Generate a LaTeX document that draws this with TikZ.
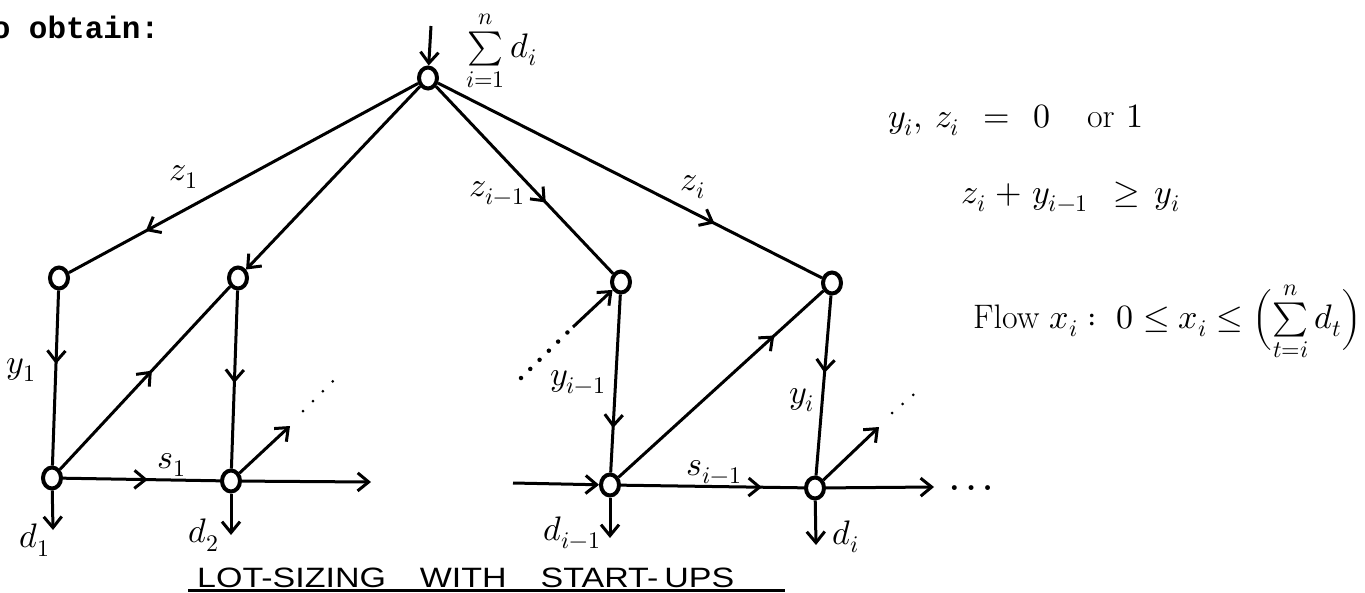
\documentclass[tikz,border=0pt]{standalone}
\usepackage{graphicx}
\usepackage{fontspec}
\usepackage{unicode-math}
\setmathfont{Latin Modern Math}
\newfontfamily\typefont{Liberation Mono}
\newfontfamily\titlefont{Liberation Sans}
\usetikzlibrary{arrows.meta,shapes.geometric,decorations.markings}
\newcommand\hwsize{\fontsize{34}{38}\selectfont}
\begin{document}
\begin{tikzpicture}[x=1pt,y=-1pt,
  vtx/.style={draw,ellipse,line width=4pt,minimum width=18pt,minimum height=21pt,inner sep=0pt},
  edge/.style={line width=3pt},
  tip/.style={-{Straight Barb[length=11pt,width=18pt,line width=3pt]}},
  midarrow/.style={postaction={decorate},decoration={markings,mark=at position #1 with {\arrow{Straight Barb[length=11pt,width=18pt,line width=3pt]}}}},
  lab/.style={font=\hwsize,inner sep=0pt},
  dotline/.style={line width=4.5pt,line cap=round,dash pattern=on 0pt off 13pt},
  smalldots/.style={line width=3pt,line cap=round,dash pattern=on 0pt off 14pt},
]
\useasboundingbox (0,0) rectangle (1365,592);

% nodes
\node[vtx] (T)  at (428,78) {};
\node[vtx] (A1) at (59,278) {};
\node[vtx] (B1) at (238,278) {};
\node[vtx] (A2) at (52,478) {};
\node[vtx] (B2) at (231,481) {};
\node[vtx] (C1) at (621,282) {};
\node[vtx] (D1) at (832,283) {};
\node[vtx] (C2) at (610,485) {};
\node[vtx] (D2) at (815,488) {};

% free ends
\coordinate (tin) at (431,26);
\coordinate (bout) at (371,482);
\coordinate (bdiag) at (290,426);
\coordinate (bdot1) at (303,411);
\coordinate (bdot2) at (340,374);
\coordinate (cin) at (513,483);
\coordinate (cdot1) at (521,378);
\coordinate (cdot2) at (573,327);
\coordinate (dout) at (934,487);
\coordinate (ddiag) at (879,427);
\coordinate (ddot1) at (892,413);
\coordinate (ddot2) at (920,389);
\coordinate (a2d) at (53,530);
\coordinate (b2d) at (231,535);
\coordinate (c2d) at (610,538);
\coordinate (d2d) at (816,545);

% connectors
\draw[edge,tip] (tin) -- (T);
\draw[edge,midarrow=0.78] (T) -- (A1);
\draw[edge,tip] (T) -- (B1);
\draw[edge,midarrow=0.62] (T) -- (C1);
\draw[edge,midarrow=0.72] (T) -- (D1);
\draw[edge,midarrow=0.42] (A1) -- (A2);
\draw[edge,midarrow=0.54] (A2) -- (B1);
\draw[edge,midarrow=0.52] (B1) -- (B2);
\draw[edge,midarrow=0.54] (A2) -- (B2);
\draw[edge,tip] (B2) -- (bout);
\draw[edge,tip] (B2) -- (bdiag);
\draw[smalldots] (bdot1) -- (bdot2);
\draw[edge,tip] (cin) -- (C2);
\draw[dotline] (cdot1) -- (cdot2);
\draw[edge,tip] (cdot2) -- (C1);
\draw[edge,midarrow=0.75] (C1) -- (C2);
\draw[edge,midarrow=0.76] (C2) -- (D1);
\draw[edge,midarrow=0.43] (D1) -- (D2);
\draw[edge,midarrow=0.77] (C2) -- (D2);
\draw[edge,tip] (D2) -- (dout);
\draw[edge,tip] (D2) -- (ddiag);
\draw[smalldots] (ddot1) -- (ddot2);
\draw[edge,tip] (A2) -- (a2d);
\draw[edge,tip] (B2) -- (b2d);
\draw[edge,tip] (C2) -- (c2d);
\draw[edge,tip] (D2) -- (d2d);

% labels
\node[lab] (lz1) at (184,177) {$z_1$};
\node[lab] (lzim) at (497,193) {$z_{i-1}$};
\node[lab] (lzi) at (693,187) {$z_i$};
\node[lab] (ly1) at (21,370) {$y_1$};
\node[lab] (ls1) at (172,465) {$s_1$};
\node[lab] (lyim) at (578,382) {$y_{i-1}$};
\node[lab] (lyi) at (802,400) {$y_i$};
\node[lab] (lsim) at (714,472) {$s_{i-1}$};
\node[lab] (ld1) at (35,540) {$d_1$};
\node[lab] (ld2) at (204,535) {$d_2$};
\node[lab] (ldim) at (572,533) {$d_{i-1}$};
\node[lab] (ldi) at (846,537) {$d_i$};
\node[lab,anchor=base west] (dots) at (949,490) {\bfseries .\hspace{6pt}.\hspace{6pt}.};

\node[lab,anchor=base west] (sumlab) at (466,57) {$\sum\limits_{i=1}^{n} d_i$};

\node[lab,anchor=base west] (c1) at (888,127) {$y_i,$\hspace{12pt}$z_i$\hspace{24pt}$=$\hspace{24pt}$0$\hspace{36pt}or\hspace{12pt}$1$};
\node[lab,anchor=base west] (c2) at (961,203) {$z_i$\hspace{10pt}$+$\hspace{10pt}$y_{i-1}$\hspace{26pt}$\ge$\hspace{14pt}$y_i$};
\node[lab,anchor=base west] (c3) at (973,328) {Flow $x_i:\ 0\le x_i\le\Bigl(\sum\limits_{t=i}^{n} d_t\Bigr)$};

\node[font=\typefont\bfseries\fontsize{31}{35}\selectfont,anchor=base west,inner sep=0pt] (obt) at (-27,38) {to obtain:};

\node[anchor=base west,inner sep=0pt] (title) at (197,587) {\resizebox{537pt}{\height}{\titlefont\fontsize{28}{32}\selectfont LOT-SIZING\hspace{28pt}WITH\hspace{28pt}START-\hspace{5pt}UPS}};
\draw[line width=3pt] ([xshift=-9pt,yshift=-3pt]title.base west) -- ([xshift=51pt,yshift=-3pt]title.base east);
\end{tikzpicture}
\end{document}
